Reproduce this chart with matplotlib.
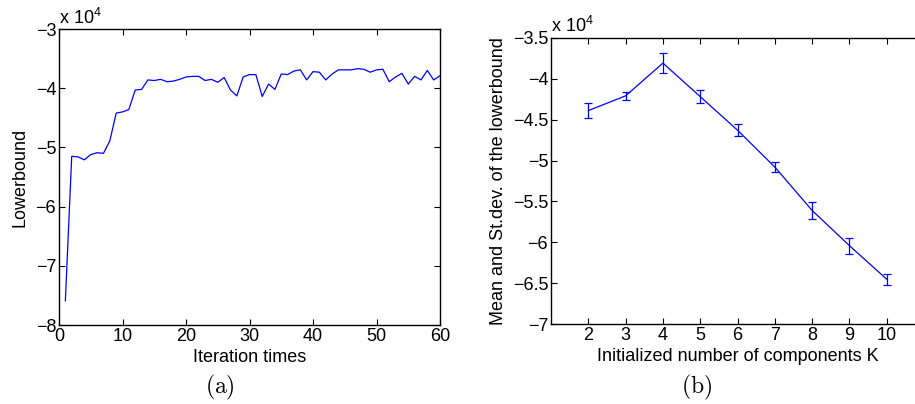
import matplotlib
matplotlib.use("Agg")
import matplotlib.pyplot as plt
from matplotlib.ticker import FuncFormatter

plt.rcParams['font.family'] = ['Liberation Sans', 'DejaVu Sans']
plt.rcParams['mathtext.fontset'] = 'custom'
plt.rcParams['mathtext.rm'] = 'Liberation Sans'
plt.rcParams['xtick.direction'] = 'in'
plt.rcParams['ytick.direction'] = 'in'

# (a) lower bound per iteration (units of 1e4)
iterations = list(range(1, 61))
lowerbound = [-7.59, -5.15, -5.16, -5.21, -5.12, -5.09, -5.10, -4.89, -4.42, -4.40,
              -4.36, -4.03, -4.02, -3.86, -3.87, -3.85, -3.89, -3.88, -3.85, -3.81,
              -3.80, -3.80, -3.87, -3.85, -3.90, -3.82, -4.03, -4.13, -3.81, -3.77,
              -3.77, -4.14, -3.93, -4.02, -3.76, -3.77, -3.71, -3.69, -3.86, -3.72,
              -3.73, -3.86, -3.76, -3.69, -3.69, -3.69, -3.67, -3.68, -3.73, -3.69,
              -3.68, -3.89, -3.81, -3.75, -3.93, -3.80, -3.86, -3.70, -3.86, -3.79]

# (b) mean and std of lower bound vs K (units of 1e4)
K = [2, 3, 4, 5, 6, 7, 8, 9, 10]
mean_lb = [-4.39, -4.21, -3.81, -4.22, -4.63, -5.08, -5.61, -6.04, -6.45]
std_lb = [0.094, 0.047, 0.126, 0.083, 0.073, 0.057, 0.103, 0.097, 0.069]

FS = 13
fig = plt.figure(figsize=(9.15, 4.04), dpi=100)
fmt = FuncFormatter(lambda v, p: ('%g' % v).replace('-', '\u2212'))

ax1 = fig.add_axes([0.0645, 0.1955, 0.4164, 0.7327])
ax1.plot(iterations, lowerbound, color='#0000ff', lw=0.9)
ax1.set_xlim(0, 60)
ax1.set_ylim(-8, -3)
ax1.set_xticks([0, 10, 20, 30, 40, 50, 60])
ax1.set_yticks([-8, -7, -6, -5, -4, -3])
ax1.yaxis.set_major_formatter(fmt)
ax1.set_xlabel('Iteration times', fontsize=FS, labelpad=3)
ax1.set_ylabel('Lowerbound', fontsize=FS, labelpad=5)
ax1.text(0.0, 1.005, r'x 10$^{4}$', transform=ax1.transAxes, fontsize=FS,
         ha='left', va='bottom')
fig.text(220 / 915, 1 - 387 / 404, r'$\mathrm{(a)}$', fontsize=17, ha='center',
         va='center', math_fontfamily='cm')

ax2 = fig.add_axes([0.6022, 0.1973, 0.4077, 0.7094])
ax2.errorbar(K, mean_lb, yerr=std_lb, color='#0000ff', lw=0.9, elinewidth=0.9,
             capsize=3, capthick=0.9)
ax2.set_xlim(1, 11)
ax2.set_ylim(-7, -3.5)
ax2.set_xticks(K)
ax2.set_yticks([-7, -6.5, -6, -5.5, -5, -4.5, -4, -3.5])
ax2.yaxis.set_major_formatter(fmt)
ax2.set_xlabel('Initialized number of components K', fontsize=FS, labelpad=3)
ax2.set_ylabel('Mean and St.dev. of the lowerbound', fontsize=FS, labelpad=4)
ax2.text(0.0, 1.005, r'x 10$^{4}$', transform=ax2.transAxes, fontsize=FS,
         ha='left', va='bottom')
fig.text(697 / 915, 1 - 387 / 404, r'$\mathrm{(b)}$', fontsize=17, ha='center',
         va='center', math_fontfamily='cm')

for ax in (ax1, ax2):
    ax.tick_params(top=True, right=True, labelsize=FS, length=4, width=0.8, pad=2)
    for s in ax.spines.values():
        s.set_linewidth(1.0)

fig.savefig('out.png', dpi=100)
